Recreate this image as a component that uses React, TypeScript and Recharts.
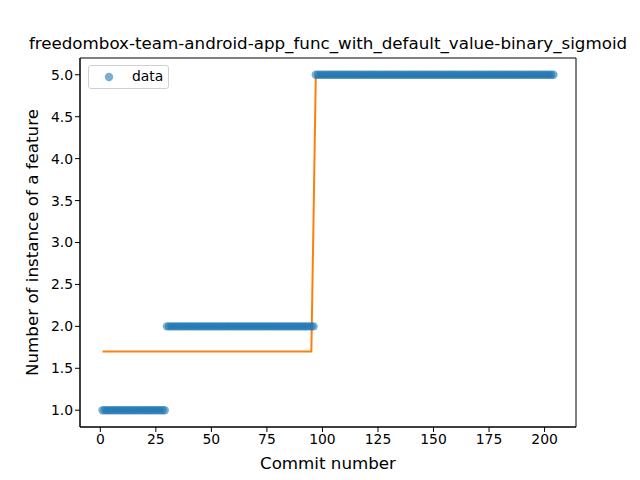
import React from 'react';
import { ComposedChart, XAxis, YAxis, Scatter, Line, ReferenceArea, Label } from 'recharts';

// observed runs: commits [from, to] and the feature count
const dataRuns: [number, number, number][] = [
  [1, 29, 1],
  [30, 96, 2],
  [97, 204, 5],
];

// fitted sigmoid
const fitRuns: [number, number, number][] = [
  [1, 95, 1.7],
  [96, 96, 3.3],
  [97, 204, 4.98],
];

const xTicks = [0, 25, 50, 75, 100, 125, 150, 175, 200];
const yTicks = [1.0, 1.5, 2.0, 2.5, 3.0, 3.5, 4.0, 4.5, 5.0];

const expand = (runs: [number, number, number][]) => {
  const out: { x: number; y: number }[] = [];
  runs.forEach(([a, b, v]) => {
    for (let x = a; x <= b; x++) out.push({ x, y: v });
  });
  return out;
};

const points = expand(dataRuns);
const fit = expand(fitRuns);

const FONT = 'DejaVu Sans, sans-serif';
const BLUE = '#1f77b4';
const ORANGE = '#ff7f0e';

const Dot = (props: any) => (
  <circle cx={props.cx} cy={props.cy} r={4.2} fill={BLUE} fillOpacity={0.6} />
);

const LegendBox = () => (
  <div
    style={{
      position: 'absolute',
      left: 88,
      top: 65,
      width: 81,
      height: 24,
      boxSizing: 'border-box',
      border: '1px solid #d0d0d0',
      borderRadius: 3,
      background: 'rgba(255,255,255,0.8)',
      fontFamily: FONT,
      fontSize: 13.9,
    }}
  >
    <svg width={12} height={12} style={{ position: 'absolute', left: 14, top: 5 }}>
      <circle cx={6} cy={6} r={4.2} fill={BLUE} fillOpacity={0.6} />
    </svg>
    <span style={{ position: 'absolute', left: 43, top: 2 }}>data</span>
  </div>
);

export default function App() {
  return (
    <div style={{ position: 'absolute', left: 0, top: 0, width: 640, height: 480, background: '#fff' }}>
      <div
        style={{
          position: 'absolute',
          top: 33,
          left: 0,
          width: 656,
          textAlign: 'center',
          fontFamily: FONT,
          fontSize: 16.7,
        }}
      >
        freedombox-team-android-app_func_with_default_value-binary_sigmoid
      </div>
      <ComposedChart
        width={640}
        height={480}
        margin={{ top: 58, right: 64, bottom: 0, left: 0 }}
        style={{ fontFamily: FONT }}
      >
        <XAxis
          dataKey="x"
          type="number"
          domain={[-9.15, 214.15]}
          ticks={xTicks}
          allowDataOverflow
          height={53}
          stroke="#000"
          tickLine={{ stroke: '#000' }}
          tickSize={5}
          tick={{ fill: '#000', fontSize: 13.9 }}
        >
          <Label value="Commit number" position="insideBottom" offset={11} style={{ fill: '#000', fontSize: 16.7 }} />
        </XAxis>
        <YAxis
          dataKey="y"
          type="number"
          domain={[0.8, 5.2]}
          ticks={yTicks}
          allowDataOverflow
          width={80}
          stroke="#000"
          tickSize={5}
          tickFormatter={(v: number) => v.toFixed(1)}
          tick={{ fill: '#000', fontSize: 13.9 }}
        >
          <Label
            value="Number of instance of a feature"
            angle={-90}
            position="insideLeft"
            offset={32}
            style={{ fill: '#000', fontSize: 16.7, textAnchor: 'middle' }}
          />
        </YAxis>
        <ReferenceArea x1={-9.15} x2={214.15} y1={0.8} y2={5.2} fill="none" stroke="#000" strokeWidth={1} />
        <Scatter name="data" data={points} dataKey="y" shape={Dot} isAnimationActive={false} />
        <Line
          data={fit}
          dataKey="y"
          type="linear"
          stroke={ORANGE}
          strokeWidth={2}
          dot={false}
          activeDot={false}
          isAnimationActive={false}
        />
      </ComposedChart>
      <LegendBox />
    </div>
  );
}
